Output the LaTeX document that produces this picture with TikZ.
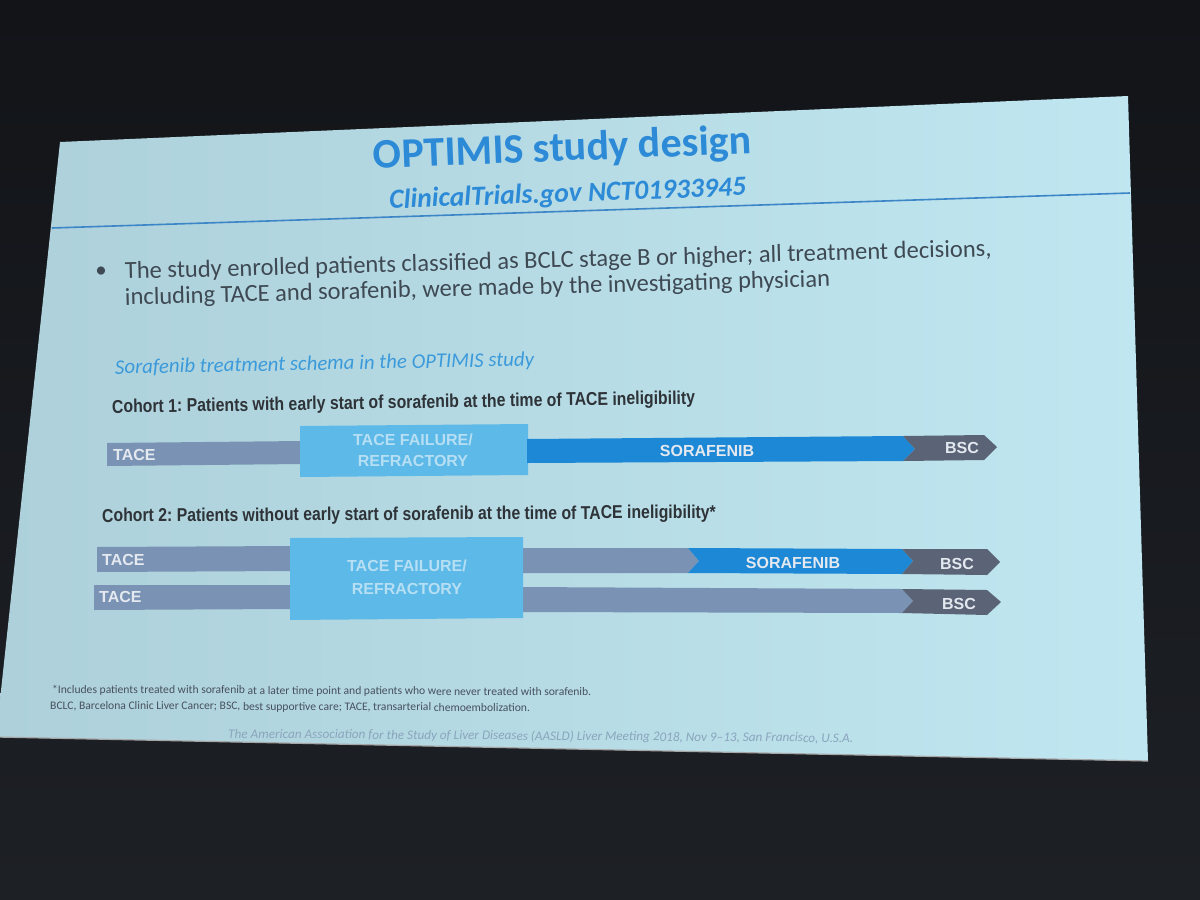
\documentclass[tikz,border=0pt]{standalone}
\usepackage{fontspec}
\setmainfont{Carlito}
\newfontfamily\arialfont{Liberation Sans}
\newfontfamily\narrowfont[FakeStretch=0.85]{Liberation Sans}
\frenchspacing
\definecolor{roomdark}{HTML}{121418}
\definecolor{roomlow}{HTML}{1D2025}
\definecolor{slideleft}{HTML}{ADD0DA}
\definecolor{slideright}{HTML}{C0E7F1}
\definecolor{titleblue}{HTML}{2C8AD6}
\definecolor{ruleblue}{HTML}{3C85C6}
\definecolor{bodygray}{HTML}{3E4953}
\definecolor{headblue}{HTML}{3B9ADA}
\definecolor{cohortgray}{HTML}{2E3338}
\definecolor{tacegray}{HTML}{7A93B4}
\definecolor{failblue}{HTML}{5DB9E7}
\definecolor{sorablue}{HTML}{1D88D6}
\definecolor{bscgray}{HTML}{5A6476}
\definecolor{notegray}{HTML}{47515D}
\definecolor{footblue}{HTML}{8AA5BC}
\begin{document}
\begin{tikzpicture}[x=1pt, y=-1pt, line join=round,
    lbl/.style={font=\arialfont\bfseries\fontsize{16}{18}\selectfont, text=white!80!tacegray, inner sep=0pt},
    faillbl/.style={lbl, text=white!55!failblue, align=center},
    cohort/.style={font=\narrowfont\bfseries\fontsize{18.6}{20}\selectfont, text=cohortgray, inner sep=0pt, anchor=base west},
    note/.style={font=\fontsize{11.6}{13}\selectfont, text=notegray, inner sep=0pt, anchor=base west}]
  \useasboundingbox (0,0) rectangle (1200,900);
  % room and screen
  \shade[top color=roomdark, bottom color=roomlow] (0,0) rectangle (1200,900);
  \shade[left color=slideleft, right color=slideright] (60,142) -- (1128,96) -- (1148,761) -- (-4,737) -- cycle;
  \draw[gray!70, line width=1.2] (-4,737) -- (1148,761);
  % heading
  \node[font=\bfseries\fontsize{42}{50}\selectfont, text=titleblue, anchor=base, rotate=2.3, inner sep=0pt] (title) at (563,161) {OPTIMIS study design};
  \node[font=\bfseries\itshape\fontsize{27.6}{30}\selectfont, text=titleblue, anchor=base, rotate=2.1, inner sep=0pt] (trial) at (568,202) {ClinicalTrials.gov NCT01933945};
  \draw[ruleblue, line width=1.6] (52,228) -- (1130,193);
  % bullet
  \node[font=\fontsize{23}{25}\selectfont, text=bodygray, inner sep=0pt] (dot) at (101,272) {•};
  \node[font=\fontsize{24.5}{29}\selectfont, text=bodygray, anchor=base west, rotate=1.5, inner sep=0pt] (bulleta) at (125,279)
    {The study enrolled patients classified as BCLC stage B or higher; all treatment decisions,};
  \node[font=\fontsize{24.5}{29}\selectfont, text=bodygray, anchor=base west, rotate=1.5, inner sep=0pt] (bulletb) at (125,305)
    {including TACE and sorafenib, were made by the investigating physician};
  \node[font=\itshape\fontsize{20.8}{24}\selectfont, text=headblue, anchor=base west, rotate=1.1, inner sep=0pt] (schema) at (115,374) {Sorafenib treatment schema in the OPTIMIS study};
  % cohort 1
  \node[cohort, rotate=0.9] (cohorta) at (112,413) {Cohort 1: Patients with early start of sorafenib at the time of TACE ineligibility};
  \fill[tacegray] (107,443) -- (302,441) -- (302,464) -- (107,466) -- cycle;
  \fill[failblue] (300,426) -- (528,424) -- (528,475) -- (300,477) -- cycle;
  \fill[sorablue] (527,439) -- (903,436) -- (915,449) -- (903,461) -- (527,463) -- cycle;
  \fill[bscgray] (903,436) -- (984,435) -- (997,447) -- (984,460) -- (903,461) -- (915,449) -- cycle;
  \node[lbl, anchor=west] (tacea) at (113,455) {TACE};
  \node[faillbl] (faila) at (413,450) {TACE FAILURE/\\[3pt]REFRACTORY};
  \node[lbl] (soraa) at (707,451) {SORAFENIB};
  \node[lbl] (bsca) at (962,448) {BSC};
  % cohort 2
  \node[cohort, rotate=0.35] (cohortb) at (102,522) {Cohort 2: Patients without early start of sorafenib at the time of TACE ineligibility*};
  \fill[tacegray] (97,547) -- (292,546) -- (292,571) -- (97,572) -- cycle;
  \fill[tacegray] (94,585) -- (290,585) -- (290,609) -- (94,610) -- cycle;
  \fill[tacegray] (521,548) -- (688,548) -- (699,561) -- (688,573) -- (521,573) -- cycle;
  \fill[sorablue] (688,548) -- (902,549) -- (913,561) -- (902,574) -- (688,573) -- (699,561) -- cycle;
  \fill[bscgray] (902,549) -- (987,549) -- (1000,562) -- (987,575) -- (902,574) -- (913,561) -- cycle;
  \fill[tacegray] (521,587) -- (902,589) -- (913,601) -- (902,613) -- (521,612) -- cycle;
  \fill[bscgray] (902,589) -- (987,590) -- (1001,602) -- (987,615) -- (902,613) -- (913,601) -- cycle;
  \fill[failblue] (290,538) -- (523,537) -- (523,618) -- (290,620) -- cycle;
  \node[lbl, anchor=west] (taceb) at (102,560) {TACE};
  \node[lbl, anchor=west] (tacec) at (99,597) {TACE};
  \node[faillbl] (failb) at (407,577) {TACE FAILURE/\\[5pt]REFRACTORY};
  \node[lbl] (sorab) at (793,563) {SORAFENIB};
  \node[lbl] (bscb) at (957,564) {BSC};
  \node[lbl] (bscc) at (959,604) {BSC};
  % notes
  \node[note, rotate=-0.3] (starnote) at (52,693) {*Includes patients treated with sorafenib at a later time point and patients who were never treated with sorafenib.};
  \node[note, rotate=-0.3] (abbrev) at (50,709) {BCLC, Barcelona Clinic Liver Cancer; BSC, best supportive care; TACE, transarterial chemoembolization.};
  \node[font=\itshape\fontsize{13.2}{15}\selectfont, text=footblue, anchor=base west, rotate=-0.4, inner sep=0pt] (meeting) at (228,738) {The American Association for the Study of Liver Diseases (AASLD) Liver Meeting 2018, Nov 9–13, San Francisco, U.S.A.};
\end{tikzpicture}
\end{document}
